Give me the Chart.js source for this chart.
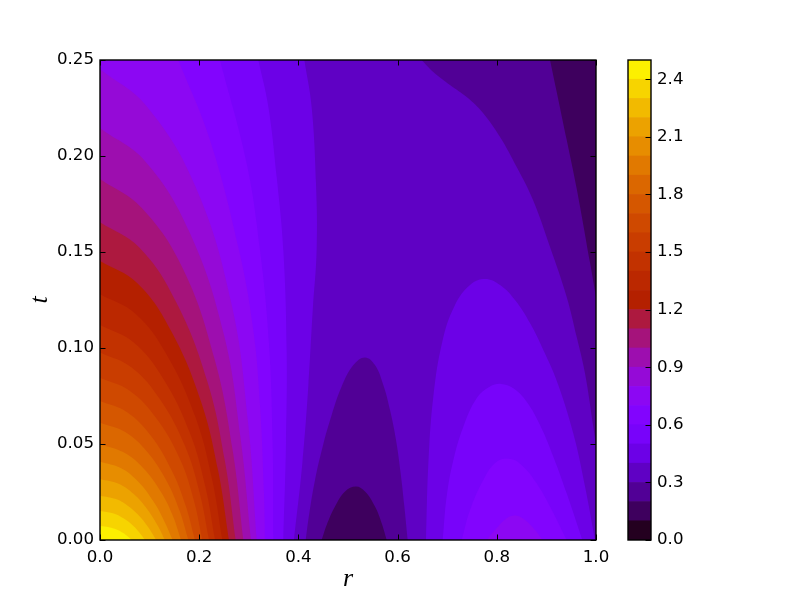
<!DOCTYPE html>
<html>
<head>
<meta charset="utf-8">
<style>
html,body{margin:0;padding:0;background:#fff;}
canvas{position:absolute;left:0;top:0;}
</style>
<script src="https://cdn.jsdelivr.net/npm/chart.js@4/dist/chart.umd.min.js"></script>
</head>
<body>
<canvas id="main" width="800" height="600"></canvas>
<canvas id="bar" width="800" height="600"></canvas>
<script>
const xTicks = [0, 0.2, 0.4, 0.6, 0.8, 1.0];
const yTicks = [0, 0.05, 0.10, 0.15, 0.20, 0.25];
const barTicks = [0, 0.3, 0.6, 0.9, 1.2, 1.5, 1.8, 2.1, 2.4];
const levels = [0,0.1,0.2,0.3,0.4,0.5,0.6,0.7,0.8,0.9,1.0,1.1,1.2,1.3,1.4,1.5,1.6,1.7,1.8,1.9,2.0,2.1,2.2,2.3,2.4,2.5];
const bandColors = [
 'rgb(36,0,32)','rgb(62,0,94)','rgb(81,0,150)','rgb(95,1,196)','rgb(108,1,231)',
 'rgb(120,3,250)','rgb(130,4,254)','rgb(140,7,243)','rgb(149,10,215)','rgb(157,14,175)',
 'rgb(165,19,123)','rgb(173,25,63)','rgb(180,32,0)','rgb(187,40,0)','rgb(194,50,0)',
 'rgb(201,61,0)','rgb(207,73,0)','rgb(213,87,0)','rgb(219,103,0)','rgb(225,121,0)',
 'rgb(231,141,0)','rgb(236,162,0)','rgb(242,186,0)','rgb(247,212,0)','rgb(252,240,0)'];

// contour lines, as [r, t]
const frame = [[0,0],[1,0],[1,0.25],[0,0.25]];
const left04 = [[0.4120,0.25],[0.4267,0.2257],[0.4355,0.1858],[0.4368,0.1510],[0.4290,0.12],[0.4200,0.08],[0.4080,0.04],[0.3911,0]];
const left05 = [[0.3192,0.25],[0.3394,0.2257],[0.3562,0.1892],[0.3696,0.1510],[0.3763,0.0990],[0.3750,0.0503],[0.3696,0]];
const left06 = [[0.2419,0.25],[0.2957,0.1962],[0.3226,0.1510],[0.3407,0.1024],[0.3481,0.0503],[0.3495,0]];
const left07 = [[0.1579,0.25],[0.2218,0.2083],[0.2802,0.1510],[0.3091,0.1094],[0.3226,0.0703],[0.3306,0.0243],[0.3327,0]];
const left08 = [[0,0.2453],[0.0948,0.2257],[0.1927,0.1840],[0.2654,0.1227],[0.2985,0.0613],[0.3159,0]];
const left09 = [[0,0.2144],[0.0913,0.1972],[0.1796,0.1608],[0.2496,0.1072],[0.2831,0.0536],[0.3044,0]];
const left10 = [[0,0.1880],[0.0838,0.1730],[0.1676,0.1410],[0.2312,0.0940],[0.2673,0.0470],[0.2890,0]];
const left11 = [[0,0.1655],[0.0793,0.1523],[0.1532,0.1241],[0.2161,0.0828],[0.2516,0.0414],[0.2735,0]];
const left12 = [[0,0.1453],[0.0754,0.1337],[0.1431,0.1090],[0.2029,0.0727],[0.2380,0.0363],[0.2601,0]];
const left13 = [[0,0.1280],[0.0715,0.1178],[0.1356,0.0960],[0.1923,0.0640],[0.2256,0.0320],[0.2466,0]];
const left14 = [[0,0.1120],[0.0673,0.1030],[0.1275,0.0840],[0.1809,0.0560],[0.2122,0.0280],[0.2319,0]];
const left15 = [[0,0.0977],[0.0637,0.0899],[0.1209,0.0733],[0.1714,0.0489],[0.2011,0.0244],[0.2198,0]];
const left16 = [[0,0.0845],[0.0598,0.0777],[0.1135,0.0634],[0.1609,0.0423],[0.1888,0.0211],[0.2063,0]];
const left17 = [[0,0.0724],[0.0546,0.0666],[0.1025,0.0543],[0.1446,0.0362],[0.1724,0.0181],[0.1915,0]];
const left18 = [[0,0.0611],[0.0508,0.0562],[0.0953,0.0458],[0.1345,0.0306],[0.1603,0.0153],[0.1781,0]];
const left19 = [[0,0.0498],[0.0465,0.0458],[0.0874,0.0374],[0.1233,0.0249],[0.1470,0.0125],[0.1633,0]];
const left20 = [[0,0.0408],[0.0418,0.0375],[0.0762,0.0306],[0.1069,0.0204],[0.1289,0.0102],[0.1465,0]];
const left21 = [[0,0.0318],[0.0373,0.0293],[0.0681,0.0239],[0.0956,0.0159],[0.1153,0.0080],[0.1310,0]];
const left22 = [[0,0.0231],[0.0322,0.0213],[0.0587,0.0173],[0.0824,0.0116],[0.0994,0.0058],[0.1129,0]];
const left23 = [[0,0.0151],[0.0258,0.0139],[0.0472,0.0113],[0.0662,0.0076],[0.0798,0.0038],[0.0907,0]];
const left24 = [[0,0.0073],[0.0182,0.0067],[0.0332,0.0055],[0.0466,0.00365],[0.0561,0.0018],[0.0638,0]];
const hump03 = [[0.4147,0],[0.4220,0.0139],[0.4335,0.0313],[0.4489,0.0486],[0.4671,0.0651],[0.4872,0.0799],[0.5108,0.0911],[0.5343,0.0951],[0.5544,0.0911],[0.5712,0.0807],[0.5847,0.0677],[0.5968,0.0521],[0.6062,0.0347],[0.6136,0.0174],[0.6203,0]];
const hump02 = [[0.4469,0],[0.4570,0.0078],[0.4738,0.0174],[0.4940,0.0252],[0.5161,0.0278],[0.5343,0.0252],[0.5544,0.0174],[0.5679,0.0087],[0.5780,0]];
const right04 = [[0.6573,0],[0.6620,0.0400],[0.6720,0.0747],[0.6909,0.1042],[0.7157,0.1224],[0.7460,0.1328],[0.7762,0.1359],[0.8065,0.1328],[0.8367,0.1250],[0.8669,0.1130],[0.8938,0.0990],[0.9208,0.0830],[0.9543,0.0555],[0.9778,0.0280],[0.998,0]];
const right05 = [[0.6909,0],[0.6989,0.0226],[0.7124,0.0417],[0.7325,0.0590],[0.7594,0.0738],[0.7863,0.0799],[0.8085,0.0813],[0.8333,0.0790],[0.8602,0.0720],[0.8871,0.0599],[0.9140,0.0434],[0.9409,0.0243],[0.9724,0]];
const right06 = [[0.7292,0],[0.7460,0.0156],[0.7728,0.0313],[0.7997,0.0408],[0.8286,0.0422],[0.8535,0.0382],[0.8804,0.0295],[0.9073,0.0174],[0.9409,0]];
const right07 = [[0.7796,0],[0.7997,0.0061],[0.8199,0.0113],[0.8381,0.0127],[0.8569,0.0104],[0.8770,0.0052],[0.8925,0]];
const upper03 = [[0.6486,0.25],[0.6714,0.2439],[0.7056,0.2370],[0.7393,0.2307],[0.7722,0.2224],[0.8065,0.2099],[0.8401,0.1943],[0.8730,0.1771],[0.9073,0.1526],[0.9409,0.1266],[0.9611,0.1057],[0.9778,0.0868],[0.9946,0.0589],[1,0.0495]];
const upper02 = [[0.9073,0.25],[0.9409,0.2085],[0.9611,0.1830],[0.9879,0.1445],[1,0.1266]];

const cornerLeft = [[0,0]];
const cornerTop = [[0,0],[0,0.25]];
const cornerRight = [[1,0.25]];
const none = [];

// painted from the lowest layer up: [contour, band index, corners that close it]
const layers = [
 [left04,4,cornerTop],[left05,5,cornerTop],[left06,6,cornerTop],[left07,7,cornerTop],
 [left08,8,cornerLeft],[left09,9,cornerLeft],[left10,10,cornerLeft],[left11,11,cornerLeft],
 [left12,12,cornerLeft],[left13,13,cornerLeft],[left14,14,cornerLeft],[left15,15,cornerLeft],
 [left16,16,cornerLeft],[left17,17,cornerLeft],[left18,18,cornerLeft],[left19,19,cornerLeft],
 [left20,20,cornerLeft],[left21,21,cornerLeft],[left22,22,cornerLeft],[left23,23,cornerLeft],[left24,24,cornerLeft],
 [hump03,2,none],[hump02,1,none],
 [right04,4,none],[right05,5,none],[right06,6,none],[right07,7,none],
 [upper03,2,cornerRight],[upper02,1,cornerRight]
];

function closed(curve, corners){
  const pts = curve.slice();
  if (corners.length){
    pts.push(curve[curve.length-1]);
    corners.forEach(c => { pts.push(c); pts.push(c); });
  }
  return pts.map(p => ({x:p[0], y:p[1]}));
}
function region(curve, band, corners, tension){
  return {data: closed(curve, corners), showLine:true, fill:'shape', tension:tension,
          backgroundColor: bandColors[band], borderWidth:0, borderColor:'rgba(0,0,0,0)', pointRadius:0, pointHoverRadius:0};
}
const datasets = [region(frame, 3, none, 0)].concat(layers.map(l => region(l[0], l[1], l[2], 0.4))).reverse();

const tickFont = {family:'"DejaVu Sans"', size:16.67};
const mathFont = {family:'"Liberation Serif"', size:26, style:'italic'};

const frameTicks = {
  id:'frameTicks',
  afterDraw(chart){
    const {ctx, chartArea:a, scales:s} = chart;
    ctx.save();
    ctx.strokeStyle='#000'; ctx.lineWidth=1;
    ctx.beginPath();
    s.x.ticks.forEach(t=>{
      const p=Math.round(s.x.getPixelForValue(t.value))+0.5;
      ctx.moveTo(p,a.bottom); ctx.lineTo(p,a.bottom-5.5);
      ctx.moveTo(p,a.top); ctx.lineTo(p,a.top+5.5);
    });
    s.y.ticks.forEach(t=>{
      const p=Math.round(s.y.getPixelForValue(t.value))+0.5;
      ctx.moveTo(a.left,p); ctx.lineTo(a.left+5.5,p);
      ctx.moveTo(a.right,p); ctx.lineTo(a.right-5.5,p);
    });
    ctx.stroke();
    ctx.lineWidth=1.4;
    ctx.strokeRect(a.left,a.top,a.right-a.left,a.bottom-a.top);
    ctx.restore();
  }
};

new Chart(document.getElementById('main'), {
  type:'scatter',
  data:{datasets},
  options:{
    responsive:false, animation:false, events:[],
    layout:{padding:{left:0,top:60,right:204,bottom:0}},
    plugins:{legend:{display:false},tooltip:{enabled:false},title:{display:false}},
    scales:{
      x:{type:'linear',min:0,max:1,position:'bottom',
        grid:{display:false,drawTicks:false},border:{display:false},
        afterBuildTicks:s=>{s.ticks=xTicks.map(v=>({value:v}));},
        afterFit:s=>{s.height=60;},
        ticks:{color:'#000',font:tickFont,padding:8,autoSkip:false,maxRotation:0,callback:v=>Number(v).toFixed(1)},
        title:{display:true,text:'r',color:'#000',font:mathFont,padding:{top:0,bottom:5}}},
      y:{type:'linear',min:0,max:0.25,position:'left',
        grid:{display:false,drawTicks:false},border:{display:false},
        afterBuildTicks:s=>{s.ticks=yTicks.map(v=>({value:v}));},
        afterFit:s=>{s.width=100;},
        ticks:{color:'#000',font:tickFont,padding:6,autoSkip:false,callback:v=>Number(v).toFixed(2)},
        title:{display:true,text:'t',color:'#000',font:mathFont,padding:{top:25,bottom:0}}}
    }
  },
  plugins:[frameTicks]
});

const barLabels = [''];
const barSets = bandColors.map((c,i)=>({data:[[levels[i],levels[i+1]]],backgroundColor:c,borderWidth:0,barPercentage:1,categoryPercentage:1,grouped:false}));

const barFrame = {
  id:'barFrame',
  afterDraw(chart){
    const {ctx, chartArea:a, scales:s} = chart;
    ctx.save();
    ctx.strokeStyle='#000'; ctx.lineWidth=1;
    ctx.beginPath();
    s.y.ticks.forEach(t=>{
      const p=Math.round(s.y.getPixelForValue(t.value))+0.5;
      ctx.moveTo(a.right,p); ctx.lineTo(a.right-5.5,p);
    });
    ctx.stroke();
    ctx.lineWidth=1.4;
    ctx.strokeRect(a.left,a.top,a.right-a.left,a.bottom-a.top);
    ctx.restore();
  }
};

new Chart(document.getElementById('bar'), {
  type:'bar',
  data:{labels:barLabels,datasets:barSets},
  options:{
    responsive:false, animation:false, events:[],
    layout:{padding:{left:628,top:60,right:0,bottom:60}},
    plugins:{legend:{display:false},tooltip:{enabled:false},title:{display:false}},
    scales:{
      x:{display:false,stacked:false,offset:true},
      y:{type:'linear',min:0,max:2.5,position:'right',
        grid:{display:false,drawTicks:false},border:{display:false},
        afterBuildTicks:s=>{s.ticks=barTicks.map(v=>({value:v}));},
        afterFit:s=>{s.width=149;},
        ticks:{color:'#000',font:tickFont,padding:6,autoSkip:false,callback:v=>Number(v).toFixed(1)}}
    }
  },
  plugins:[barFrame]
});
</script>
</body>
</html>
